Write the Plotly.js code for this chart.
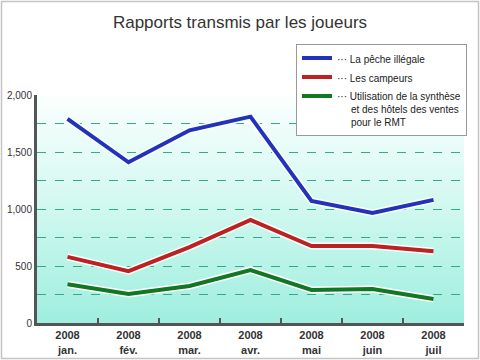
<!DOCTYPE html>
<html><head><meta charset="utf-8">
<script src="https://cdn.plot.ly/plotly-3.0.1.min.js"></script>
<style>body{margin:0;background:#fff}#c{width:480px;height:360px}</style>
</head><body><div id="c"></div>
<script>
const months = ["2008<br>jan.","2008<br>fév.","2008<br>mar.","2008<br>avr.","2008<br>mai","2008<br>juin","2008<br>juil"];
const peche = [1790,1410,1690,1810,1070,965,1080];
const campeurs = [580,455,665,905,675,675,630];
const rmt = [340,255,325,465,290,298,210];
const pad = '\u00a0\u00a0\u00a0\u00a0\u00a0';
const names = ["··· La pêche illégale","··· Les campeurs","··· Utilisation de la synthèse<br>"+pad+"et des hôtels des ventes<br>"+pad+"pour le RMT"];
const colors = ["#2233bb","#bb2222","#117722"];
const series = [peche, campeurs, rmt];

const traces = [];
series.forEach((s,i)=>{
  traces.push({x:months,y:s,type:'scatter',mode:'lines',line:{color:'#ffffff',width:7},hoverinfo:'skip',showlegend:false});
});
series.forEach((s,i)=>{
  traces.push({x:months,y:s,type:'scatter',mode:'lines',name:names[i],line:{color:colors[i],width:4}});
});

const svg = '<svg xmlns="http://www.w3.org/2000/svg" width="100" height="100" preserveAspectRatio="none"><defs><linearGradient id="g" x1="0" y1="0" x2="0" y2="1"><stop offset="0" stop-color="#fbfffe"/><stop offset="0.5" stop-color="#d0f8ef"/><stop offset="1" stop-color="#9eeedf"/></linearGradient></defs><rect width="100" height="100" fill="url(#g)"/></svg>';
const W=427,H=228,L=37,T=95;
const layout = {
  width:480,height:360,
  margin:{l:L,r:16,t:T,b:37,autoexpand:false},
  paper_bgcolor:'#ffffff',plot_bgcolor:'rgba(0,0,0,0)',
  font:{family:'Arial, Liberation Sans, sans-serif',color:'#333'},
  title:{text:'Rapports transmis par les joueurs',font:{size:17,color:'#333'},x:0.5,xanchor:'center',y:0.94,yanchor:'middle'},
  showlegend:true,
  legend:{x:(467-L)/W,y:(323-44)/H,xanchor:'right',yanchor:'top',valign:'top',bgcolor:'#ffffff',bordercolor:'#999',borderwidth:1,font:{size:10,color:'#222'},itemwidth:30,tracegroupgap:0},
  xaxis:{type:'category',range:[-0.5,6.5],showline:true,linecolor:'#555',linewidth:3,ticks:'inside',tickson:'boundaries',ticklen:5,tickwidth:2,tickcolor:'#555',showgrid:false,tickfont:{size:11,color:'#333'},tickprefix:'<b>',ticksuffix:'</b>',fixedrange:true},
  yaxis:{range:[0,2000],dtick:500,tickformat:',d',showline:true,linecolor:'#555',linewidth:3,ticks:'',showgrid:true,gridcolor:'#33aa88',griddash:'dash',gridwidth:1,zeroline:false,tickfont:{size:10,color:'#333'},
    minor:{dtick:250,showgrid:true,gridcolor:'#33aa88',griddash:'dash',gridwidth:1},fixedrange:true},
  images:[{source:'data:image/svg+xml;utf8,'+encodeURIComponent(svg),xref:'paper',yref:'paper',x:0,y:1,sizex:1,sizey:1,sizing:'stretch',layer:'below'}],
  shapes:[{type:'rect',xref:'paper',yref:'paper',x0:(1.5-L)/W,x1:(478.5-L)/W,y0:(323-358.5)/H,y1:(323-1.5)/H,line:{color:'#c4c4c4',width:1.5},layer:'below'}]
};
Plotly.newPlot('c',traces,layout,{displayModeBar:false,staticPlot:true});
</script></body></html>
